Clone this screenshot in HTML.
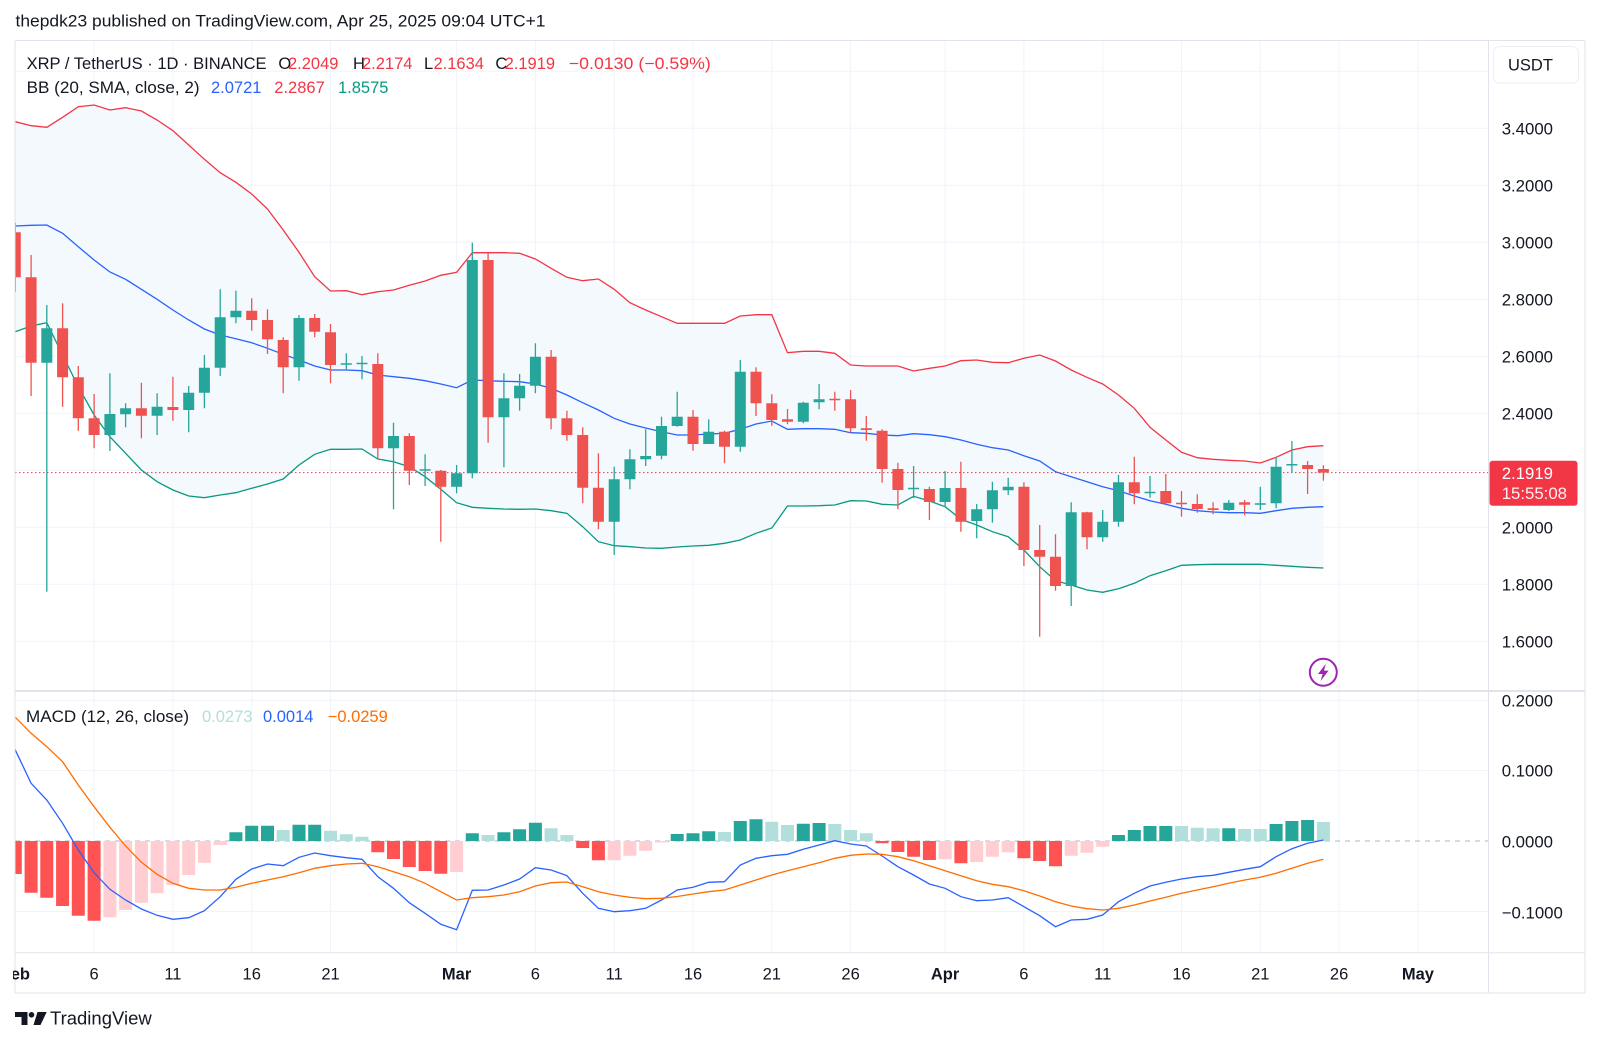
<!DOCTYPE html>
<html><head><meta charset="utf-8">
<style>
html,body{margin:0;padding:0;background:#fff;width:1600px;height:1045px;overflow:hidden}
svg{display:block}
text{font-family:"Liberation Sans",Arial,sans-serif;fill:#131722}
</style></head>
<body>
<svg width="1600" height="1045" viewBox="0 0 1600 1045" xmlns="http://www.w3.org/2000/svg">
<defs>
<clipPath id="cm"><rect x="15" y="41" width="1473.5" height="649.5"/></clipPath>
<clipPath id="cd"><rect x="15" y="692" width="1473.5" height="260.5"/></clipPath>
<clipPath id="ct"><rect x="13" y="953" width="1475" height="40"/></clipPath>
</defs>

<!-- header -->
<text x="15.5" y="26.5" font-size="16.5" textLength="530" lengthAdjust="spacingAndGlyphs">thepdk23 published on TradingView.com, Apr 25, 2025 09:04 UTC+1</text>

<!-- grid -->
<path d="M94.1 41V952.5M172.9 41V952.5M251.7 41V952.5M330.5 41V952.5M456.6 41V952.5M535.4 41V952.5M614.2 41V952.5M693 41V952.5M771.8 41V952.5M850.6 41V952.5M945.1 41V952.5M1023.9 41V952.5M1102.7 41V952.5M1181.5 41V952.5M1260.3 41V952.5M1339.1 41V952.5M1417.9 41V952.5M15 71.3H1488.5M15 128.3H1488.5M15 185.3H1488.5M15 242.3H1488.5M15 299.3H1488.5M15 356.3H1488.5M15 413.3H1488.5M15 470.3H1488.5M15 527.3H1488.5M15 584.3H1488.5M15 641.3H1488.5M15 700.3H1488.5M15 770.6H1488.5M15 911.4H1488.5" stroke="#f0f3fa" stroke-width="1" fill="none"/>

<!-- main pane -->
<g clip-path="url(#cm)">
<polygon fill="#f4f9fe" points="14,121.7 15.3,121.7 31.1,125.7 46.8,127.3 62.6,117.3 78.3,106.7 94.1,105 109.9,110 125.6,107.7 141.4,111 157.1,120 172.9,130.7 188.7,145 204.4,159.3 220.2,172.7 235.9,182.3 251.7,194 267.5,209 283.2,230 299,252.3 314.7,276.7 330.5,291 346.3,290.7 362,294.7 377.8,291.7 393.5,290 409.3,285.3 425.1,281 440.8,275.3 456.6,272.3 472.3,252.7 488.1,252.7 503.9,252.7 519.6,253.3 535.4,259 551.1,268.3 566.9,277.3 582.7,280.7 598.4,279 614.2,289.3 629.9,302.7 645.7,310 661.5,316.7 677.2,323.3 693,323.3 708.7,323.3 724.5,323.3 740.3,316 756,314.7 771.8,314.7 787.5,352.7 803.3,351.3 819.1,351.3 834.8,353.3 850.6,365 866.3,366 882.1,366 897.9,366 913.6,371 929.4,368.3 945.1,366 960.9,360.7 976.7,360 992.4,362.3 1008.2,362.7 1023.9,358.3 1039.7,355 1055.5,361 1071.2,370 1087,377.3 1102.7,384 1118.5,395 1134.3,408.3 1150,427.3 1165.8,440 1181.5,452.3 1197.3,457.7 1213.1,459.3 1228.8,460.3 1244.6,461 1260.3,463 1276.1,457.3 1291.9,450 1307.6,446.7 1323.4,445.7 1323.4,568 1307.6,567.3 1291.9,566.3 1276.1,565.3 1260.3,564.3 1244.6,564.3 1228.8,564.3 1213.1,564.3 1197.3,564.7 1181.5,565.3 1165.8,570.7 1150,575.7 1134.3,583.3 1118.5,588.7 1102.7,592.3 1087,590 1071.2,585 1055.5,580.7 1039.7,566.7 1023.9,550 1008.2,536.7 992.4,531.7 976.7,525 960.9,519.3 945.1,506.7 929.4,501 913.6,496.3 897.9,505 882.1,504.3 866.3,501 850.6,500.7 834.8,505 819.1,505.7 803.3,506 787.5,506 771.8,528 756,533.3 740.3,540 724.5,543.3 708.7,545.3 693,546 677.2,547 661.5,548.3 645.7,548 629.9,546.7 614.2,545.7 598.4,541.7 582.7,526.7 566.9,513.3 551.1,510.7 535.4,509 519.6,509.3 503.9,509 488.1,508.3 472.3,507.3 456.6,502.7 440.8,489.3 425.1,476.7 409.3,466.7 393.5,461.7 377.8,459 362,449 346.3,449.3 330.5,449.3 314.7,454.3 299,465 283.2,479 267.5,484 251.7,488.3 235.9,492.7 220.2,495 204.4,497.7 188.7,496 172.9,490 157.1,481.7 141.4,470 125.6,453.3 109.9,436.7 94.1,415 78.3,386.7 62.6,355 46.8,322.7 31.1,326 15.3,331.7 14,331.7"/>
<polyline fill="none" stroke="#f23645" stroke-width="1.3" points="14,121.7 15.3,121.7 31.1,125.7 46.8,127.3 62.6,117.3 78.3,106.7 94.1,105 109.9,110 125.6,107.7 141.4,111 157.1,120 172.9,130.7 188.7,145 204.4,159.3 220.2,172.7 235.9,182.3 251.7,194 267.5,209 283.2,230 299,252.3 314.7,276.7 330.5,291 346.3,290.7 362,294.7 377.8,291.7 393.5,290 409.3,285.3 425.1,281 440.8,275.3 456.6,272.3 472.3,252.7 488.1,252.7 503.9,252.7 519.6,253.3 535.4,259 551.1,268.3 566.9,277.3 582.7,280.7 598.4,279 614.2,289.3 629.9,302.7 645.7,310 661.5,316.7 677.2,323.3 693,323.3 708.7,323.3 724.5,323.3 740.3,316 756,314.7 771.8,314.7 787.5,352.7 803.3,351.3 819.1,351.3 834.8,353.3 850.6,365 866.3,366 882.1,366 897.9,366 913.6,371 929.4,368.3 945.1,366 960.9,360.7 976.7,360 992.4,362.3 1008.2,362.7 1023.9,358.3 1039.7,355 1055.5,361 1071.2,370 1087,377.3 1102.7,384 1118.5,395 1134.3,408.3 1150,427.3 1165.8,440 1181.5,452.3 1197.3,457.7 1213.1,459.3 1228.8,460.3 1244.6,461 1260.3,463 1276.1,457.3 1291.9,450 1307.6,446.7 1323.4,445.7"/>
<polyline fill="none" stroke="#2962ff" stroke-width="1.3" points="14,226 15.3,226 31.1,225.3 46.8,225 62.6,233.3 78.3,246.7 94.1,260 109.9,272 125.6,279.3 141.4,289.3 157.1,299.3 172.9,310 188.7,320 204.4,329 220.2,335 235.9,338.7 251.7,342.7 267.5,348.3 283.2,354.3 299,360 314.7,366 330.5,370 346.3,370 362,370.7 377.8,375 393.5,376.7 409.3,378.3 425.1,380.7 440.8,384 456.6,387.7 472.3,380 488.1,380.7 503.9,381.3 519.6,381.7 535.4,384 551.1,388.3 566.9,395 582.7,402.7 598.4,410 614.2,418.3 629.9,424 645.7,428 661.5,431.7 677.2,435 693,435 708.7,434 724.5,433.3 740.3,429.3 756,424 771.8,421 787.5,429.3 803.3,428.7 819.1,428.7 834.8,429.3 850.6,432.7 866.3,433.3 882.1,435 897.9,435.7 913.6,433.7 929.4,434.7 945.1,436.7 960.9,440 976.7,444.3 992.4,447.7 1008.2,450 1023.9,455.7 1039.7,461 1055.5,471.7 1071.2,476.7 1087,481.7 1102.7,486.7 1118.5,490.7 1134.3,496 1150,500.7 1165.8,504.3 1181.5,508.3 1197.3,510.7 1213.1,512 1228.8,512.7 1244.6,512.7 1260.3,513.3 1276.1,510.7 1291.9,508.3 1307.6,507.3 1323.4,506.7"/>
<polyline fill="none" stroke="#089981" stroke-width="1.3" points="14,331.7 15.3,331.7 31.1,326 46.8,322.7 62.6,355 78.3,386.7 94.1,415 109.9,436.7 125.6,453.3 141.4,470 157.1,481.7 172.9,490 188.7,496 204.4,497.7 220.2,495 235.9,492.7 251.7,488.3 267.5,484 283.2,479 299,465 314.7,454.3 330.5,449.3 346.3,449.3 362,449 377.8,459 393.5,461.7 409.3,466.7 425.1,476.7 440.8,489.3 456.6,502.7 472.3,507.3 488.1,508.3 503.9,509 519.6,509.3 535.4,509 551.1,510.7 566.9,513.3 582.7,526.7 598.4,541.7 614.2,545.7 629.9,546.7 645.7,548 661.5,548.3 677.2,547 693,546 708.7,545.3 724.5,543.3 740.3,540 756,533.3 771.8,528 787.5,506 803.3,506 819.1,505.7 834.8,505 850.6,500.7 866.3,501 882.1,504.3 897.9,505 913.6,496.3 929.4,501 945.1,506.7 960.9,519.3 976.7,525 992.4,531.7 1008.2,536.7 1023.9,550 1039.7,566.7 1055.5,580.7 1071.2,585 1087,590 1102.7,592.3 1118.5,588.7 1134.3,583.3 1150,575.7 1165.8,570.7 1181.5,565.3 1197.3,564.7 1213.1,564.3 1228.8,564.3 1244.6,564.3 1260.3,564.3 1276.1,565.3 1291.9,566.3 1307.6,567.3 1323.4,568"/>

<line x1="15" y1="472.6" x2="1488.5" y2="472.6" stroke="#f23645" stroke-width="1" stroke-dasharray="1.5,2.5"/>

<path stroke="#26a69a" stroke-width="1.3" fill="none" d="M46.8 305V591.7M109.9 373.3V451M125.6 403.3V427.3M157.1 393.3V435M188.7 386V432.3M204.4 355V408.3M220.2 289.3V376M235.9 290.7V323.3M299 315.3V380.7M346.3 353.3V370M362 356V379.3M393.5 422.7V509.3M425.1 454.3V486M456.6 465V493.3M472.3 242.7V478.3M503.9 373.3V467.3M519.6 374V410.7M535.4 343.3V393.3M614.2 466.7V555M629.9 449.3V489.3M645.7 429.3V466M661.5 416.7V459.3M677.2 391.7V426.7M708.7 419.3V444M740.3 360V451.7M803.3 401.7V423.3M819.1 384V409.3M913.6 466V498.3M945.1 471V506.7M976.7 504V538.3M992.4 481.7V522.7M1008.2 477.7V495M1071.2 502.3V606M1102.7 510V541.7M1118.5 475V526.7M1150 476V497.7M1228.8 500V511M1260.3 486.7V510M1276.1 456.7V508.3M1291.9 441V472.7"/>
<path fill="#26a69a" d="M41.3 328.3h11v34.4h-11zM104.4 414h11v21h-11zM120.1 408.3h11v6h-11zM151.6 406.7h11v9h-11zM183.2 392.7h11v17.3h-11zM198.9 367.7h11v25h-11zM214.7 317.3h11v50.4h-11zM230.4 310.7h11v6.6h-11zM293.5 318h11v49.3h-11zM340.8 363.3h11v1.5h-11zM356.5 362.7h11v1.5h-11zM388 436h11v12.3h-11zM419.6 469.3h11v1.5h-11zM451.1 473.3h11v13.4h-11zM466.8 260h11v213.3h-11zM498.4 398.3h11v19h-11zM514.1 385.7h11v12.6h-11zM529.9 356.7h11v29h-11zM608.7 479.3h11v42.4h-11zM624.4 459.3h11v20h-11zM640.2 456h11v3.3h-11zM656 426h11v29.7h-11zM671.7 416.7h11v9.3h-11zM703.2 431.7h11v12.3h-11zM734.8 371.7h11v75h-11zM797.8 402.7h11v19h-11zM813.6 399.3h11v3h-11zM908.1 487.7h11v1.5h-11zM939.6 488h11v14h-11zM971.2 509.3h11v11.7h-11zM986.9 490.3h11v19h-11zM1002.7 486.7h11v3.6h-11zM1065.7 512.3h11v73.7h-11zM1097.2 521.7h11v15.6h-11zM1113 482.3h11v39.4h-11zM1144.5 491.7h11v1.6h-11zM1223.3 502.7h11v7.3h-11zM1254.8 503.3h11v1.5h-11zM1270.6 466.7h11v36.6h-11zM1286.4 464h11v1.5h-11z"/>
<path stroke="#ef5350" stroke-width="1.3" fill="none" d="M15.3 222.7V291.7M31.1 255V396M62.6 303.3V406.7M78.3 366V430.7M94.1 394V448.3M141.4 382.7V438.3M172.9 376.7V420.7M251.7 298.3V330.7M267.5 309.3V354M283.2 337.3V393.3M314.7 314V337.3M330.5 324V383.3M377.8 353.3V459.3M409.3 433.3V485M440.8 470V541.7M488.1 253.3V442.7M551.1 350V429.3M566.9 410.7V440.7M582.7 427.3V503.3M598.4 453.3V529.3M693 410V450.7M724.5 430.7V463.3M756 367.3V416M771.8 394.3V425.7M787.5 409V424.3M834.8 391.7V410.7M850.6 390V432.7M866.3 416V440.7M882.1 429.3V482.7M897.9 462.7V509.3M929.4 486.7V520M960.9 461.7V531.7M1023.9 482.3V566M1039.7 525V636.7M1055.5 534.3V590.7M1087 511.7V549.3M1134.3 456.7V504.3M1165.8 474V504.3M1181.5 491V516.7M1197.3 494.3V512.7M1213.1 502.3V514.3M1244.6 500V515.3M1307.6 461V494M1323.4 465.3V480.7"/>
<path fill="#ef5350" d="M9.8 232.3h11v45h-11zM25.6 277.3h11v85.4h-11zM57.1 328.3h11v49h-11zM72.8 377.3h11v41h-11zM88.6 418.3h11v16.7h-11zM135.9 408.3h11v7.4h-11zM167.4 407h11v3h-11zM246.2 310.7h11v9.3h-11zM262 320h11v19.3h-11zM277.7 340h11v27.3h-11zM309.2 318h11v13.7h-11zM325 332.3h11v32.7h-11zM372.3 364h11v84.3h-11zM403.8 436h11v34.7h-11zM435.3 470.7h11v16h-11zM482.6 260h11v157.3h-11zM545.6 356.7h11v61.6h-11zM561.4 418.3h11v16.7h-11zM577.2 435h11v52.7h-11zM592.9 487.7h11v34h-11zM687.5 416.7h11v27.3h-11zM719 431.7h11v15h-11zM750.5 371.7h11v31.6h-11zM766.3 403.3h11v16.7h-11zM782 419.3h11v2.4h-11zM829.3 398.7h11v1.5h-11zM845.1 399.3h11v29h-11zM860.8 428.3h11v1.7h-11zM876.6 430.7h11v38.3h-11zM892.4 469h11v21h-11zM923.9 489h11v13h-11zM955.4 488h11v33.7h-11zM1018.4 486.7h11v63.3h-11zM1034.2 550h11v6.7h-11zM1050 556.7h11v29.3h-11zM1081.5 512.3h11v25h-11zM1128.8 482.3h11v11h-11zM1160.3 491h11v12.3h-11zM1176 502.7h11v1.5h-11zM1191.8 504h11v5h-11zM1207.6 508.3h11v1.7h-11zM1239.1 502.3h11v2.4h-11zM1302.1 465h11v4h-11zM1317.9 469h11v3.6h-11z"/>

<!-- purple icon -->
<circle cx="1323.3" cy="672.3" r="13.5" fill="#fff" stroke="#9c27b0" stroke-width="2"/>
<polygon fill="#9c27b0" points="1325.8,663.8 1318,674 1322.6,674 1320.6,681 1328.6,670.6 1324,670.6"/>
</g>

<!-- MACD pane -->
<g clip-path="url(#cd)">
<line x1="15" y1="841" x2="1488.5" y2="841" stroke="#b2b5be" stroke-width="1" stroke-dasharray="5,5"/>
<path fill="#ff5252" d="M8.8 841h13v33h-13zM24.6 841h13v51.7h-13zM40.3 841h13v56.7h-13zM56.1 841h13v65h-13zM71.8 841h13v74.7h-13zM87.6 841h13v79.7h-13zM371.3 841h13v11.3h-13zM387 841h13v18h-13zM402.8 841h13v26h-13zM418.6 841h13v30h-13zM434.3 841h13v32.7h-13zM576.2 841h13v7h-13zM591.9 841h13v19.3h-13zM875.6 841h13v2.3h-13zM891.4 841h13v11h-13zM907.1 841h13v15.7h-13zM922.9 841h13v19h-13zM954.4 841h13v22.3h-13zM1017.4 841h13v17.3h-13zM1033.2 841h13v20h-13zM1049 841h13v25.3h-13z"/>
<path fill="#ffcdd2" d="M103.4 841h13v76.3h-13zM119.1 841h13v69h-13zM134.9 841h13v61.7h-13zM150.6 841h13v52.3h-13zM166.4 841h13v44h-13zM182.2 841h13v34h-13zM197.9 841h13v21.7h-13zM213.7 841h13v4h-13zM450.1 841h13v31h-13zM607.7 841h13v19.3h-13zM623.4 841h13v14.7h-13zM639.2 841h13v9.7h-13zM655 841h13v1.5h-13zM938.6 841h13v18.3h-13zM970.2 841h13v21h-13zM985.9 841h13v15.7h-13zM1001.7 841h13v11.3h-13zM1064.7 841h13v14.7h-13zM1080.5 841h13v11.7h-13zM1096.2 841h13v5.7h-13z"/>
<path fill="#26a69a" d="M229.4 832.3h13v8.7h-13zM245.2 825.7h13v15.3h-13zM261 825.7h13v15.3h-13zM292.5 824.7h13v16.3h-13zM308.2 824.7h13v16.3h-13zM465.8 833.3h13v7.7h-13zM497.4 832.3h13v8.7h-13zM513.1 829.3h13v11.7h-13zM528.9 822.7h13v18.3h-13zM670.7 834h13v7h-13zM686.5 833.3h13v7.7h-13zM702.2 831.3h13v9.7h-13zM733.8 821h13v20h-13zM749.5 819.3h13v21.7h-13zM796.8 823.7h13v17.3h-13zM812.6 823h13v18h-13zM1112 835h13v6h-13zM1127.8 830h13v11h-13zM1143.5 826h13v15h-13zM1159.3 826h13v15h-13zM1222.3 828.3h13v12.7h-13zM1269.6 824h13v17h-13zM1285.4 821h13v20h-13zM1301.1 820h13v21h-13z"/>
<path fill="#b2dfdb" d="M276.7 830h13v11h-13zM324 830.7h13v10.3h-13zM339.8 834.3h13v6.7h-13zM355.5 836.7h13v4.3h-13zM481.6 835h13v6h-13zM544.6 828.3h13v12.7h-13zM560.4 835h13v6h-13zM718 832h13v9h-13zM765.3 821.7h13v19.3h-13zM781 825h13v16h-13zM828.3 824h13v17h-13zM844.1 830h13v11h-13zM859.8 833.3h13v7.7h-13zM1175 826h13v15h-13zM1190.8 827.7h13v13.3h-13zM1206.6 828.3h13v12.7h-13zM1238.1 829h13v12h-13zM1253.8 829h13v12h-13zM1316.9 822h13v19h-13z"/>
<polyline fill="none" stroke="#2962ff" stroke-width="1.3" points="14,748 15.3,750 31.1,783.3 46.8,800 62.6,823.3 78.3,850 94.1,872.7 109.9,889.3 125.6,900 141.4,909 157.1,915.3 172.9,919.3 188.7,917.7 204.4,910.7 220.2,896.7 235.9,879.3 251.7,869 267.5,864 283.2,865.7 299,857.3 314.7,853 330.5,855.7 346.3,857.7 362,859.3 377.8,876.7 393.5,888.3 409.3,902.7 425.1,913.3 440.8,924.3 456.6,929.7 472.3,890.3 488.1,890 503.9,885 519.6,879 535.4,867.7 551.1,870 566.9,875.7 582.7,893.3 598.4,908.3 614.2,911.7 629.9,910.7 645.7,908.3 661.5,900 677.2,890 693,887.3 708.7,882.3 724.5,881.7 740.3,865 756,858.3 771.8,855.7 787.5,854.3 803.3,849.3 819.1,845 834.8,840.7 850.6,844 866.3,846 882.1,856 897.9,866.7 913.6,875 929.4,884 945.1,888.3 960.9,896.7 976.7,900.7 992.4,900 1008.2,897.7 1023.9,906.7 1039.7,915.7 1055.5,926.7 1071.2,920 1087,919.3 1102.7,915 1118.5,901.7 1134.3,893.3 1150,886 1165.8,882.3 1181.5,879 1197.3,876.7 1213.1,875.3 1228.8,872.3 1244.6,869.3 1260.3,866.7 1276.1,856.7 1291.9,848.7 1307.6,843.3 1323.4,840"/>
<polyline fill="none" stroke="#ff6d00" stroke-width="1.3" points="14,716 15.3,717.3 31.1,733.3 46.8,746.7 62.6,761.7 78.3,785 94.1,806.7 109.9,827.3 125.6,846 141.4,862.3 157.1,874.3 172.9,883.3 188.7,888.3 204.4,890 220.2,890 235.9,887.3 251.7,883.3 267.5,880 283.2,876.7 299,872.7 314.7,868.3 330.5,865.7 346.3,864 362,863.3 377.8,866.7 393.5,871.7 409.3,876.7 425.1,883.3 440.8,891.7 456.6,900 472.3,897.7 488.1,896.7 503.9,895 519.6,891.7 535.4,886 551.1,882.7 566.9,882 582.7,886.7 598.4,891.7 614.2,895 629.9,897.3 645.7,898.7 661.5,898.3 677.2,896.5 693,894 708.7,891.7 724.5,890 740.3,885 756,880 771.8,875 787.5,870.7 803.3,866.7 819.1,862.7 834.8,858.3 850.6,855.3 866.3,854 882.1,854.3 897.9,856.7 913.6,860.7 929.4,865.7 945.1,870.7 960.9,875.7 976.7,880.7 992.4,884.3 1008.2,886.7 1023.9,890.7 1039.7,896 1055.5,901.7 1071.2,906 1087,908.7 1102.7,910 1118.5,908.3 1134.3,905 1150,901 1165.8,897.3 1181.5,893.3 1197.3,890 1213.1,886.7 1228.8,883.3 1244.6,880 1260.3,877.3 1276.1,873.3 1291.9,868.3 1307.6,863.3 1323.4,859.3"/>
</g>

<!-- borders -->
<path d="M15 40.5H1585M15 40.5V993M1585 40.5V993M15 993H1585M1488.5 40.5V993M15 952.7H1585" stroke="#e0e3eb" stroke-width="1" fill="none"/>
<line x1="15" y1="691" x2="1585" y2="691" stroke="#e0e3eb" stroke-width="2"/>

<!-- legends -->
<text x="26.6" y="69" font-size="16.5" textLength="240" lengthAdjust="spacingAndGlyphs">XRP / TetherUS · 1D · BINANCE</text>
<text x="278.4" y="69" font-size="16.5">O</text>
<text x="288" y="69" font-size="16.5" style="fill:#f23645">2.2049</text>
<text x="353" y="69" font-size="16.5">H</text>
<text x="362" y="69" font-size="16.5" style="fill:#f23645">2.2174</text>
<text x="424" y="69" font-size="16.5">L</text>
<text x="433.5" y="69" font-size="16.5" style="fill:#f23645">2.1634</text>
<text x="495.4" y="69" font-size="16.5">C</text>
<text x="504.6" y="69" font-size="16.5" style="fill:#f23645">2.1919</text>
<text x="568.8" y="69" font-size="16.5" style="fill:#f23645" textLength="142" lengthAdjust="spacingAndGlyphs">−0.0130 (−0.59%)</text>

<text x="26.6" y="93" font-size="16.5" textLength="173" lengthAdjust="spacingAndGlyphs">BB (20, SMA, close, 2)</text>
<text x="211" y="93" font-size="16.5" style="fill:#2962ff">2.0721</text>
<text x="274.3" y="93" font-size="16.5" style="fill:#f23645">2.2867</text>
<text x="338" y="93" font-size="16.5" style="fill:#089981">1.8575</text>

<text x="26" y="722" font-size="16.5" textLength="163" lengthAdjust="spacingAndGlyphs">MACD (12, 26, close)</text>
<text x="202" y="722" font-size="16.5" style="fill:#b2dfdb">0.0273</text>
<text x="263" y="722" font-size="16.5" style="fill:#2962ff">0.0014</text>
<text x="327.7" y="722" font-size="16.5" style="fill:#ff6d00">−0.0259</text>

<!-- price axis -->
<rect x="1493.5" y="46.5" width="85" height="36.5" rx="6" fill="#fff" stroke="#eceef2"/>
<text x="1508" y="70.5" font-size="16.5">USDT</text>
<g font-size="16.8">
<text x="1501.7" y="134.3">3.4000</text>
<text x="1501.7" y="191.3">3.2000</text>
<text x="1501.7" y="248.3">3.0000</text>
<text x="1501.7" y="305.3">2.8000</text>
<text x="1501.7" y="362.3">2.6000</text>
<text x="1501.7" y="419.3">2.4000</text>
<text x="1501.7" y="533.3">2.0000</text>
<text x="1501.7" y="590.3">1.8000</text>
<text x="1501.7" y="647.3">1.6000</text>
<text x="1501.7" y="706.3">0.2000</text>
<text x="1501.7" y="776.7">0.1000</text>
<text x="1501.7" y="847.3">0.0000</text>
<text x="1501.7" y="918.3">−0.1000</text>
</g>
<rect x="1489.5" y="460.7" width="88" height="45" rx="3" fill="#f23645"/>
<text x="1501.7" y="479" font-size="16.8" style="fill:#fff">2.1919</text>
<text x="1501.7" y="499" font-size="16.8" style="fill:#fff;fill-opacity:0.92">15:55:08</text>

<!-- time axis -->
<g clip-path="url(#ct)" font-size="16.5" text-anchor="middle">
<text x="15.3" y="979.3" font-weight="bold">Feb</text>
<text x="94.1" y="979.3">6</text>
<text x="172.9" y="979.3">11</text>
<text x="251.7" y="979.3">16</text>
<text x="330.5" y="979.3">21</text>
<text x="456.6" y="979.3" font-weight="bold">Mar</text>
<text x="535.4" y="979.3">6</text>
<text x="614.2" y="979.3">11</text>
<text x="693" y="979.3">16</text>
<text x="771.8" y="979.3">21</text>
<text x="850.6" y="979.3">26</text>
<text x="945.1" y="979.3" font-weight="bold">Apr</text>
<text x="1023.9" y="979.3">6</text>
<text x="1102.7" y="979.3">11</text>
<text x="1181.5" y="979.3">16</text>
<text x="1260.3" y="979.3">21</text>
<text x="1339.1" y="979.3">26</text>
<text x="1417.9" y="979.3" font-weight="bold">May</text>
</g>

<!-- footer logo -->
<g fill="#131722">
<rect x="15" y="1012" width="12.5" height="5"/>
<rect x="21.5" y="1012" width="6" height="13"/>
<circle cx="31.5" cy="1014.8" r="2.8"/>
<polygon points="37.5,1012 46.7,1012 40.5,1025 33.5,1025"/>
</g>
<text x="50" y="1024.5" font-size="18.3" textLength="101.7" lengthAdjust="spacingAndGlyphs">TradingView</text>
</svg>
</body></html>
